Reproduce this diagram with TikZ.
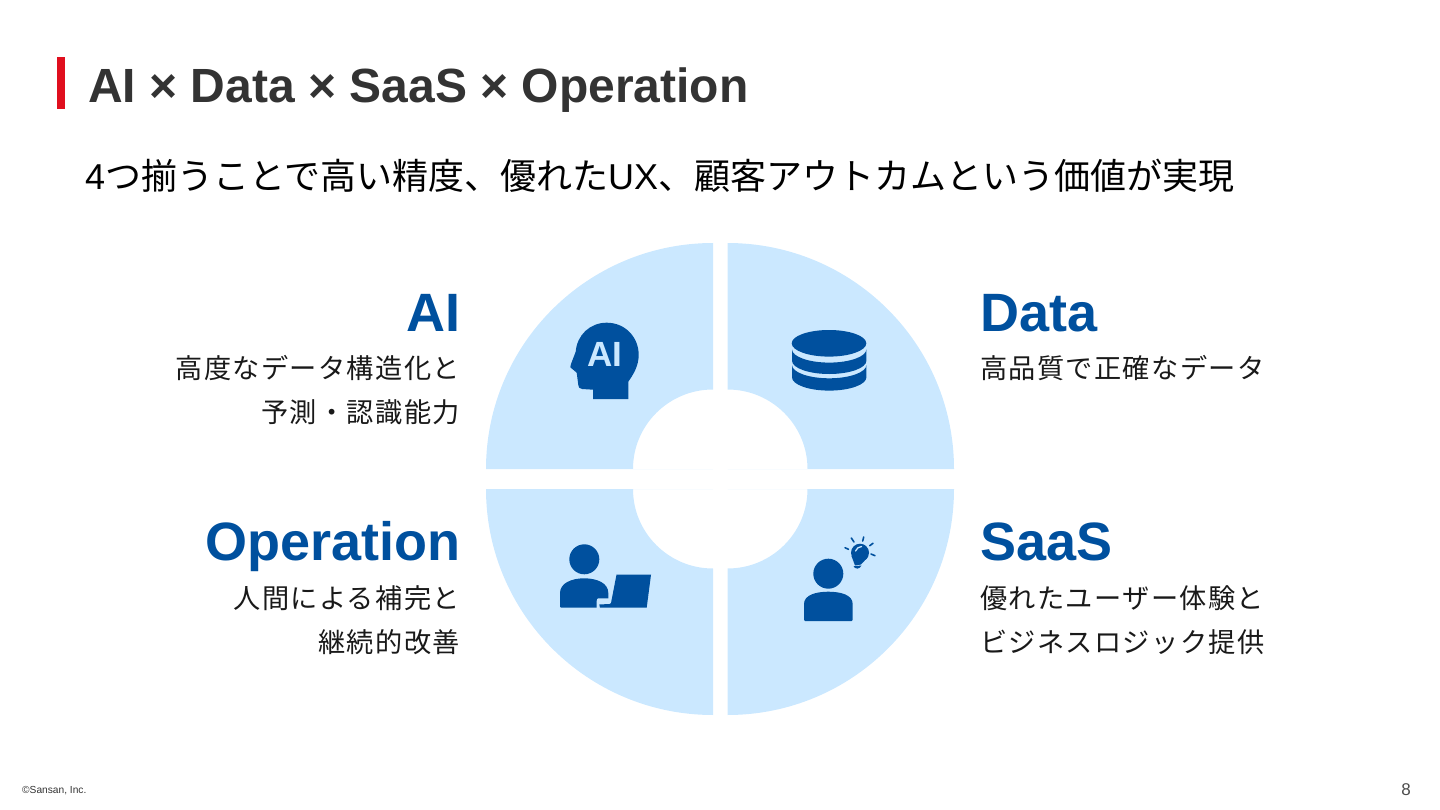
\documentclass[tikz,border=0pt]{standalone}
\usepackage{fontspec}
\setmainfont{Liberation Sans}
\newfontfamily\jpfont{Noto Sans CJK JP}
\newfontfamily\jpbody[LetterSpace=5]{Noto Sans CJK JP}
\definecolor{ringblue}{HTML}{CBE8FF}
\definecolor{iconblue}{HTML}{00509E}
\definecolor{titlegray}{HTML}{333333}
\definecolor{barred}{HTML}{E00F1E}
\begin{document}
\begin{tikzpicture}[x=1pt,y=-1pt,
    headtext/.style={inner sep=0pt,text=iconblue,font=\fontsize{54}{54}\selectfont\bfseries},
    bodytext/.style={inner sep=0pt,text=black!90,font=\fontsize{27.2}{27.2}\selectfont\jpbody},
    quarter/.style={fill=ringblue},
    icon/.style={fill=iconblue}]
  \useasboundingbox (0,0) rectangle (1440,810);
  \fill[barred] (56.7,57.5) rectangle (65.2,109);
  \draw
    (88,103) node[anchor=base west,inner sep=0pt,text=titlegray,font=\fontsize{48}{48}\selectfont\bfseries] (title){AI × Data × SaaS × Operation}
    (85,190) node[anchor=base west,inner sep=0pt,font=\fontsize{36}{36}\selectfont] (subtitle){4{\jpfont つ揃うことで高い精度、優れた}UX{\jpfont 、顧客アウトカムという価値が実現}}
    (461,331) node[anchor=base east,headtext] (aihead){AI}
    (460,378) node[anchor=base east,bodytext] (aione){高度なデータ構造化と}
    (460,422) node[anchor=base east,bodytext] (aitwo){予測・認識能力}
    (461,560) node[anchor=base east,headtext] (ophead){Operation}
    (460,608) node[anchor=base east,bodytext] (opone){人間による補完と}
    (460,652) node[anchor=base east,bodytext] (optwo){継続的改善}
    (980,331) node[anchor=base west,headtext] (datahead){Data}
    (980,378) node[anchor=base west,bodytext] (dataone){高品質で正確なデータ}
    (980,560) node[anchor=base west,headtext] (saashead){SaaS}
    (980,608) node[anchor=base west,bodytext] (saasone){優れたユーザー体験と}
    (980,652) node[anchor=base west,bodytext] (saastwo){ビジネスロジック提供}
    (22,793) node[anchor=base west,inner sep=0pt,text=black!80,font=\fontsize{10.2}{10}\selectfont] (copy){©Sansan, Inc.}
    (1411,795) node[anchor=base east,inner sep=0pt,text=black!70,font=\fontsize{17}{17}\selectfont] (page){8};
  \begin{scope}[quarter]
    \fill (713,469) -- ++(-227,0) arc[start angle=180,end angle=90,x radius=227,y radius=-226] -- ++(0,146.5) arc[start angle=90,end angle=180,x radius=80,y radius=-79.5] -- cycle;
    \fill (727.5,469) -- ++(226.5,0) arc[start angle=0,end angle=90,x radius=226.5,y radius=-226] -- ++(0,146.5) arc[start angle=90,end angle=0,x radius=80,y radius=-79.5] -- cycle;
    \fill (713,489) -- ++(-227,0) arc[start angle=180,end angle=270,x radius=227,y radius=-226] -- ++(0,-146.5) arc[start angle=270,end angle=180,x radius=80,y radius=-79.5] -- cycle;
    \fill (727.5,489) -- ++(226.5,0) arc[start angle=0,end angle=-90,x radius=226.5,y radius=-226] -- ++(0,-146.5) arc[start angle=-90,end angle=0,x radius=80,y radius=-79.5] -- cycle;
  \end{scope}
  \fill[icon] (593,399) -- (593,389.7) -- (582,389) .. controls (579,388.5) and (578.5,387) .. (578.3,385) -- (576.7,372.7) -- (570.3,367.3) -- (571,364) -- (575.7,351.7) .. controls (577,335) and (590,322.7) .. (606.7,322.7) .. controls (625,322.7) and (638.7,337) .. (638.7,355) .. controls (638.7,366) and (633,375) .. (628.3,381.7) -- (628.3,399) -- cycle;
  \node[inner sep=0pt,anchor=base,text=ringblue,font=\fontsize{35}{35}\selectfont\bfseries] (aiicon) at (604.5,366.7) {AI};
  \fill[icon] (829,343.3) ellipse[x radius=37.3,y radius=13.3];
  \fill[icon] (792,349.3) arc[start angle=180,end angle=360,x radius=37.2,y radius=-13.3] -- (866.4,360.7) arc[start angle=360,end angle=180,x radius=37.2,y radius=-13.3] -- cycle;
  \fill[icon] (792,365) arc[start angle=180,end angle=360,x radius=37.2,y radius=-13.3] -- (866.4,377.3) arc[start angle=360,end angle=180,x radius=37.2,y radius=-13.3] -- cycle;
  \fill[icon] (584.3,559.3) circle[radius=15];
  \fill[icon] (561,607.7) .. controls (560.3,607.7) and (560,607.3) .. (560,606.5) -- (560,593) .. controls (560,583) and (572,578.3) .. (584,578.3) .. controls (597,578.3) and (608.3,583) .. (608.3,593) -- (608.3,598.3) -- (598.5,598.3) .. controls (597,598.3) and (596.7,599) .. (596.7,600.5) -- (596.7,607.7) -- cycle;
  \fill[icon] (616.5,574.7) -- (651,574.7) -- (646.7,607.7) -- (600,607.7) -- (599.3,604.5) -- (609.5,604) -- (611,603) -- cycle;
  \fill[icon] (828.3,573.7) circle[radius=15];
  \fill[icon] (805,621) .. controls (804.3,621) and (804,620.5) .. (804,620) -- (804,604) .. controls (804,595) and (816,591.7) .. (828.3,591.7) .. controls (841,591.7) and (852.7,595) .. (852.7,604) -- (852.7,620) .. controls (852.7,620.5) and (852.3,621) .. (851.7,621) -- cycle;
  \fill[icon] (860,552.7) circle[radius=9];
  \fill[icon] (851.5,556) -- (855,565.5) -- (861,564.5) -- (867.5,557.5) -- cycle;
  \fill[icon] (853.5,566.3) .. controls (855.5,569.5) and (859.5,569.5) .. (861.5,565.5) -- cycle;
  \draw[ringblue,line width=1.3pt,line cap=round] (855.5,551) .. controls (856.5,548) and (859,547) .. (861.5,546.5);
  \draw[iconblue,line width=1.6pt,line cap=round] (845,547.7) -- (848.5,549.3) (851.3,538) -- (854,542) (863.7,537) -- (862.7,541) (873,543.3) -- (869.7,545.7) (875,555.7) -- (871,554);
\end{tikzpicture}
\end{document}
